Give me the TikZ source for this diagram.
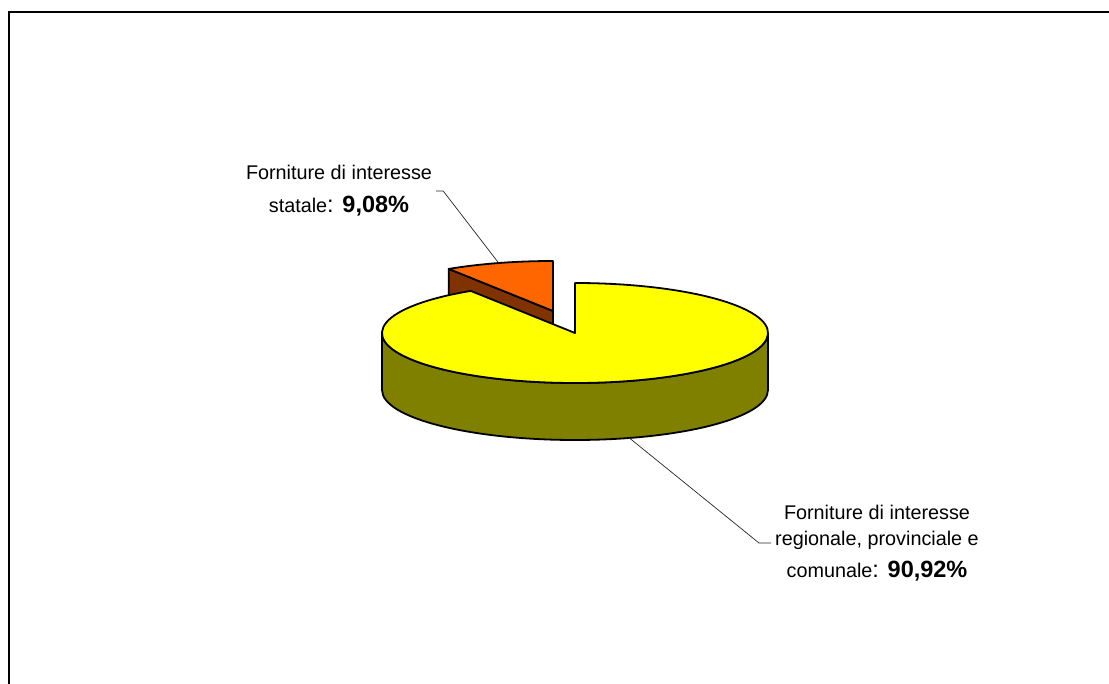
\documentclass[tikz,border=0pt]{standalone}
\usepackage{fontspec}
\setmainfont{Liberation Sans}
\usetikzlibrary{calc}
\definecolor{pieyellow}{RGB}{255,255,0}
\definecolor{pieolive}{RGB}{128,128,0}
\definecolor{pieorange}{RGB}{255,102,0}
\definecolor{piebrown}{RGB}{128,51,0}

\begin{document}
\begin{tikzpicture}[x=1pt, y=1pt,
    slice/.style={draw=black, line width=1.8pt, line join=round},
    leader/.style={draw=black!85, line width=0.7pt},
    lbl/.style={align=center, inner sep=4pt, font=\fontsize{19.8}{26}\selectfont}]
    \useasboundingbox (0,0) rectangle (1109,-684);

    % Frame
    \draw[line width=2pt] (9,-684) -- (9,-12) -- (1109,-12);

    % Centres of the two slices
    \coordinate (C) at (575,-333);
    \coordinate (S) at (553,-311);

    % Exploded slice (statale)
    \draw[slice, fill=piebrown] (S) -- ($(S)+(122.7:193 and 50)$) -- ++(0,-57) -- ($(S)+(0,-57)$) -- cycle;
    \draw[slice, fill=pieorange] (S) -- ($(S)+(90:193 and 50)$) arc[start angle=90, end angle=122.7, x radius=193, y radius=50] -- cycle;

    % Main slice
    \draw[slice, fill=pieolive] ($(C)+(180:193 and 50)$) arc[start angle=180, end angle=360, x radius=193, y radius=50] -- ++(0,-57) arc[start angle=360, end angle=180, x radius=193, y radius=50] -- cycle;
    \draw[slice, fill=pieyellow] (C) -- ($(C)+(122.7:193 and 50)$) arc[start angle=122.7, end angle=450, x radius=193, y radius=50] -- cycle;

    % Labels
    \node[lbl] (lblS) at (339,-191) {Forniture di interesse\\[7pt] statale{\fontsize{23.5}{28}\selectfont: \bfseries 9,08\%}};
    \node[lbl] (lblR) at (877,-543) {Forniture di interesse\\ regionale, provinciale e\\[6pt] comunale{\fontsize{23.5}{28}\selectfont: \bfseries 90,92\%}};

    % Leader lines
    \coordinate (pS) at ($(S)+(106.35:193 and 50)$);
    \coordinate (pR) at ($(C)+(-73.65:193 and 50)+(0,-57)$);
    \draw[leader] (lblS.east) -- ++(7,0) -- (pS);
    \draw[leader] (lblR.west) -- ++(-12,0) -- (pR);
\end{tikzpicture}
\end{document}
